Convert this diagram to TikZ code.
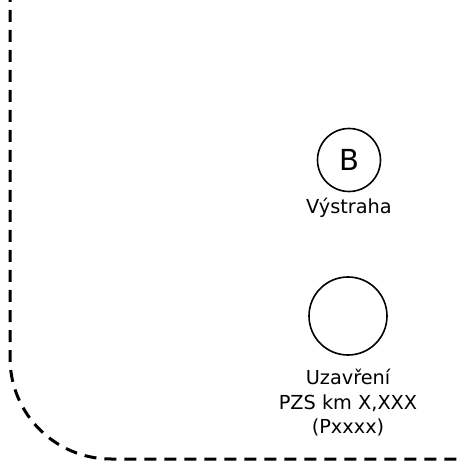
\documentclass[tikz,border=0pt]{standalone}
\usepackage{fontspec}
\setmainfont{DejaVu Sans}
\begin{document}
\begin{tikzpicture}[x=1pt,y=-1pt,
  sig/.style={draw=black,line width=1.6pt,circle,inner sep=0pt},
  lbl/.style={font=\fontsize{19.3}{24.5}\selectfont,align=center,inner sep=0pt},
  border/.style={draw=black,line width=3pt,dash pattern=on 12pt off 8pt}]
\useasboundingbox (0,0) rectangle (463,462);
\node[sig,minimum size=63pt,font=\fontsize{29}{30}\selectfont] (b) at (349,160) {B};
\node[lbl,anchor=north] (bl) at (349,198) {Výstraha};
\node[sig,minimum size=78pt] (u) at (348,316) {};
\node[lbl,anchor=north] (ul) at (348,369) {Uzavření\\PZS km X,XXX\\(Pxxxx)};
\coordinate (t) at (10,0);
\coordinate (e) at (470,459);
\draw[border,dash phase=10pt] (t) -- (10,358) arc[start angle=180,end angle=90,radius=101] -- (e);
\end{tikzpicture}
\end{document}
